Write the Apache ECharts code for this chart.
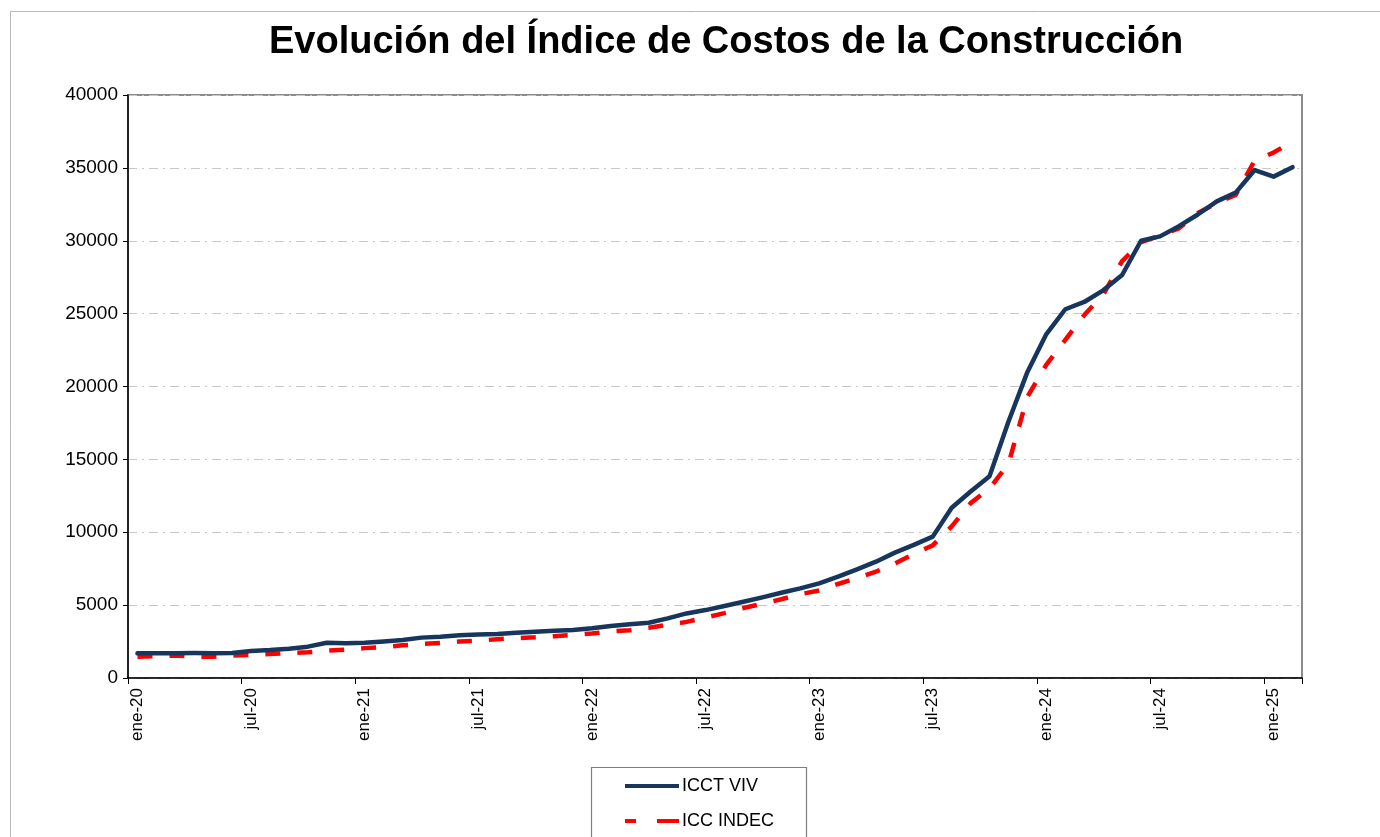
<!DOCTYPE html>
<html>
<head>
<meta charset="utf-8">
<script src="https://cdn.jsdelivr.net/npm/echarts@6/dist/echarts.min.js"></script>
<style>
  html, body { margin: 0; padding: 0; background: #ffffff; }
  #chart { width: 1380px; height: 837px; }
</style>
</head>
<body>
<div id="chart"></div>
<script>
// Monthly index levels, January 2020 through February 2025
const monthNames = ['ene', 'feb', 'mar', 'abr', 'may', 'jun', 'jul', 'ago', 'sep', 'oct', 'nov', 'dic'];
const years = ['20', '21', '22', '23', '24', '25'];
const monthCount = 62;

const icctViv = [
  1690, 1700, 1700, 1710, 1700, 1720, 1860, 1920, 2010, 2150, 2420, 2380,
  2420, 2500, 2600, 2770, 2830, 2940, 2980, 3020, 3110, 3180, 3240, 3290,
  3410, 3570, 3680, 3790, 4090, 4430, 4660, 4940, 5230, 5530, 5850, 6150,
  6490, 6950, 7450, 7980, 8600, 9130, 9700, 11680, 12800, 13850, 17600, 21000,
  23600, 25300, 25800, 26600, 27650, 30000, 30300, 31000, 31800, 32700, 33300, 34850,
  34400, 35050
];

const iccIndec = [
  1450, 1500, 1550, 1470, 1460, 1540, 1580, 1650, 1710, 1760, 1880, 1950,
  2050, 2130, 2240, 2330, 2400, 2500, 2560, 2660, 2740, 2790, 2870, 2950,
  3050, 3200, 3280, 3450, 3650, 3850, 4150, 4450, 4800, 5100, 5400, 5750,
  6000, 6450, 6850, 7300, 7850, 8500, 9100, 10400, 12000, 13000, 14700, 19300,
  21500, 23200, 24900, 26300, 28600, 29900, 30350, 30850, 31900, 32600, 33150, 35500,
  36050, 36800
];

const yTicks = { min: 0, max: 40000, step: 5000 };

// Category labels such as "ene-20"
const categories = [];
for (let i = 0; i < monthCount; i++) {
  categories.push(monthNames[i % 12] + '-' + years[Math.floor(i / 12)]);
}

const chart = echarts.init(document.getElementById('chart'));
const fontFamily = '"Liberation Sans", Arial, sans-serif';
const navy = '#17365d';
const red = '#ff0000';

chart.setOption({
  backgroundColor: '#ffffff',
  animation: false,
  title: {
    text: 'Evolución del Índice de Costos de la Construcción',
    left: 264,
    top: 19,
    textStyle: { fontFamily, fontSize: 38, fontWeight: 'bold', color: '#000000' }
  },
  graphic: [
    {
      // outer chart frame
      type: 'rect',
      shape: { x: 10.5, y: 11.5, width: 1500, height: 1000 },
      style: { fill: 'none', stroke: '#b8b8b8', lineWidth: 1 },
      silent: true,
      z: -10
    },
    {
      // legend box
      type: 'rect',
      shape: { x: 591.5, y: 767.5, width: 215, height: 120 },
      style: { fill: '#ffffff', stroke: '#7f7f7f', lineWidth: 1.2 },
      silent: true,
      z: 1
    }
  ],
  legend: {
    orient: 'vertical',
    left: 625,
    top: 777,
    itemWidth: 54,
    itemHeight: 4,
    itemGap: 17,
    padding: 0,
    z: 5,
    textStyle: { fontFamily, fontSize: 18, color: '#000000', padding: [0, 0, 0, -2] },
    data: [
      { name: 'ICCT VIV', icon: 'rect', itemStyle: { color: navy } },
      { name: 'ICC INDEC', icon: 'path://M0,0H11V4H0Z M32,0H54V4H32Z', itemStyle: { color: red } }
    ]
  },
  grid: {
    left: 128,
    right: 78,
    top: 95,
    bottom: 159,
    show: true,
    borderColor: '#8c8c8c',
    borderWidth: 2,
    containLabel: false
  },
  xAxis: {
    type: 'category',
    data: categories,
    boundaryGap: true,
    axisLine: { lineStyle: { color: '#000000', width: 1.5 } },
    axisTick: { show: true, interval: 5, length: 6, lineStyle: { color: '#000000' } },
    axisLabel: {
      interval: 5,
      rotate: 90,
      margin: 10,
      fontFamily,
      fontSize: 17,
      color: '#000000'
    },
    splitLine: { show: false }
  },
  yAxis: {
    type: 'value',
    min: yTicks.min,
    max: yTicks.max,
    interval: yTicks.step,
    axisLine: { show: true, lineStyle: { color: '#000000', width: 1.5 } },
    axisTick: { show: true, length: 5, lineStyle: { color: '#000000' } },
    axisLabel: {
      fontFamily,
      fontSize: 19,
      color: '#000000',
      margin: 10,
      formatter: (v) => String(v)
    },
    splitLine: {
      show: true,
      lineStyle: { color: '#c8c8c8', width: 1, type: [9, 5, 2, 5] }
    }
  },
  series: [
    {
      name: 'ICCT VIV',
      type: 'line',
      data: icctViv,
      symbol: 'none',
      z: 3,
      lineStyle: { color: navy, width: 4.5, join: 'round', cap: 'round' },
      itemStyle: { color: navy }
    },
    {
      name: 'ICC INDEC',
      type: 'line',
      data: iccIndec,
      symbol: 'none',
      z: 2,
      lineStyle: { color: red, width: 4.5, type: [15, 17], cap: 'butt' },
      itemStyle: { color: red }
    }
  ]
});
</script>
</body>
</html>
